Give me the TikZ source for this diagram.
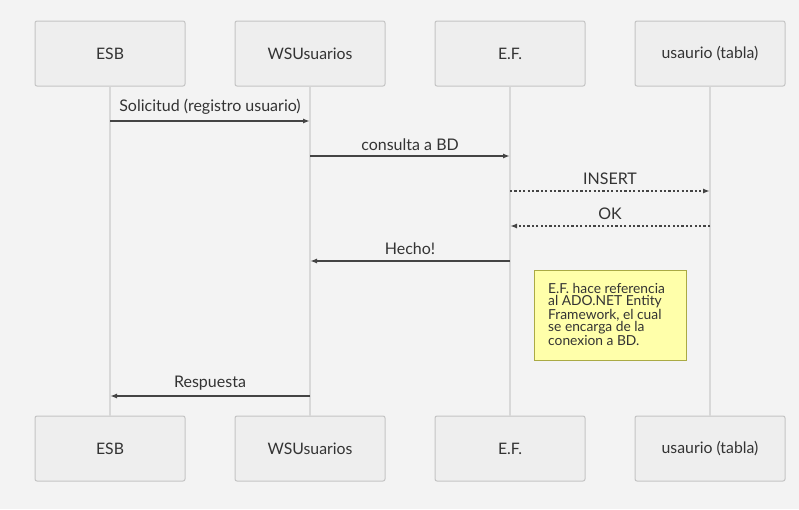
\documentclass[tikz,border=0pt]{standalone}
\usepackage{fontspec}
\setmainfont{Lato}
\usetikzlibrary{arrows.meta}
\definecolor{bg}{HTML}{F3F3F3}
\definecolor{boxfill}{HTML}{EEEEEE}
\definecolor{boxline}{HTML}{C4C4C4}
\definecolor{life}{HTML}{D8D8D8}
\definecolor{msg}{HTML}{444444}
\definecolor{txt}{HTML}{333333}
\definecolor{notefill}{HTML}{FFFFAA}
\definecolor{noteline}{HTML}{AAAA44}
\tikzset{
  actor/.style={draw=boxline, fill=boxfill, line width=1pt, rounded corners=2pt,
    minimum width=150pt, minimum height=65pt, inner sep=0pt, text=txt, font=\fontsize{15.8}{18}\selectfont},
  lifeline/.style={draw=life, line width=1.5pt},
  msgline/.style={draw=msg, line width=1.4pt, -{Latex[length=7pt,width=5pt]}},
  dotmsg/.style={msgline, dash pattern=on 2.2pt off 2.2pt},
  lbl/.style={text=txt, font=\fontsize{16}{18}\selectfont, inner sep=0pt},
  notebox/.style={draw=noteline, fill=notefill, line width=1pt, minimum width=152pt, minimum height=90pt,
    inner sep=0pt},
}
\begin{document}
\begin{tikzpicture}[x=1pt,y=-1pt]
\fill[bg] (0,0) rectangle (799,509);
\useasboundingbox (0,0) rectangle (799,509);
% actors top
\node[actor] (t1) at (110,53.5) {ESB};
\node[actor] (t2) at (310,53.5) {WSUsuarios};
\node[actor] (t3) at (510,53.5) {E.F.};
\node[actor] (t4) at (710,53.5) {usaurio (tabla)};
% actors bottom
\node[actor] (b1) at (110,448.5) {ESB};
\node[actor] (b2) at (310,448.5) {WSUsuarios};
\node[actor] (b3) at (510,448.5) {E.F.};
\node[actor] (b4) at (710,448.5) {usaurio (tabla)};
% lifelines
\draw[lifeline] (t1.south) -- (b1.north);
\draw[lifeline] (t2.south) -- (b2.north);
\draw[lifeline] (t3.south) -- (b3.north);
\draw[lifeline] (t4.south) -- (b4.north);
% message coordinates
\coordinate (m1a) at (110,121); \coordinate (m1b) at (310,121);
\coordinate (m2a) at (310,156); \coordinate (m2b) at (510,156);
\coordinate (m3a) at (510,191); \coordinate (m3b) at (710,191);
\coordinate (m4a) at (710,226); \coordinate (m4b) at (510,226);
\coordinate (m5a) at (510,261); \coordinate (m5b) at (310,261);
\coordinate (m6a) at (310,396); \coordinate (m6b) at (110,396);
\draw[msgline] (m1a) -- (m1b);
\draw[msgline] (m2a) -- (m2b);
\draw[dotmsg] (m3a) -- (m3b);
\draw[dotmsg] (m4a) -- (m4b);
\draw[msgline] (m5a) -- (m5b);
\draw[msgline] (m6a) -- (m6b);
\node[lbl] (l1) at (210,106.5) {Solicitud (registro usuario)};
\node[lbl] (l2) at (410,144.5) {consulta a BD};
\node[lbl] (l3) at (610,178.5) {INSERT};
\node[lbl] (l4) at (610,213.5) {OK};
\node[lbl] (l5) at (410,248.5) {Hecho!};
\node[lbl] (l6) at (210,383.5) {Respuesta};
% note
\node[notebox] (note) at (610,315) {};
\node[anchor=north west, inner sep=0pt, text=txt, align=left,
  font=\fontsize{13.8}{12.4}\selectfont] (notetext) at (548,283)
  {E.F. hace referencia\\al ADO.NET Entity\\Framework, el cual\\se encarga de la\\conexion a BD.};
\end{tikzpicture}
\end{document}
